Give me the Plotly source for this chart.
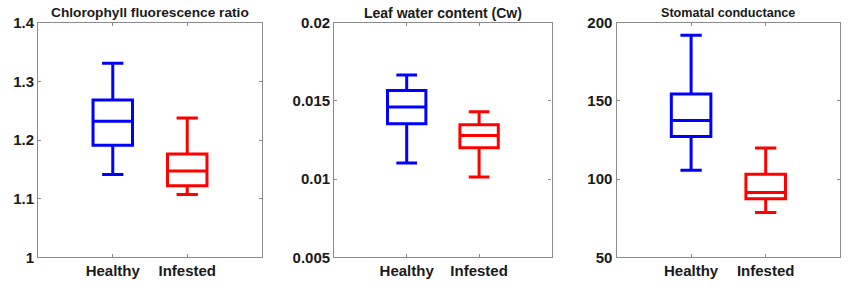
import plotly.graph_objects as go

# ---------------- data ----------------
categories = ["Healthy", "Infested"]
cat_pos = [1, 2]

titles = ["Chlorophyll fluorescence ratio", "Leaf water content (Cw)", "Stomatal conductance"]

chl_lower = [1.141, 1.107]
chl_q1 = [1.191, 1.122]
chl_median = [1.232, 1.147]
chl_q3 = [1.268, 1.176]
chl_upper = [1.331, 1.2375]

cw_lower = [0.01103, 0.01014]
cw_q1 = [0.01354, 0.01201]
cw_median = [0.01461, 0.01278]
cw_q3 = [0.01567, 0.01348]
cw_upper = [0.01666, 0.01431]

gs_lower = [105.6, 78.6]
gs_q1 = [127.3, 87.5]
gs_median = [137.4, 91.5]
gs_q3 = [154.4, 103.1]
gs_upper = [191.9, 119.9]

chl_ticks = [1.0, 1.1, 1.2, 1.3, 1.4]
chl_ticklabels = ["1", "1.1", "1.2", "1.3", "1.4"]
cw_ticks = [0.005, 0.01, 0.015, 0.02]
cw_ticklabels = ["0.005", "0.01", "0.015", "0.02"]
gs_ticks = [50, 100, 150, 200]
gs_ticklabels = ["50", "100", "150", "200"]

# ---------------- figure ----------------
W, H = 850, 290
colors = ["#0000ff", "#ff0000"]

panels = [
    (chl_lower, chl_q1, chl_median, chl_q3, chl_upper, chl_ticks, chl_ticklabels, (38.3, 261.7), 13.7),
    (cw_lower, cw_q1, cw_median, cw_q3, cw_upper, cw_ticks, cw_ticklabels, (334.3, 551.5), 14.0),
    (gs_lower, gs_q1, gs_median, gs_q3, gs_upper, gs_ticks, gs_ticklabels, (616.5, 840.3), 12.6),
]

top_px, bot_px = 22.7, 257.3
ydom = [1 - bot_px / H, 1 - top_px / H]

fig = go.Figure()
font_family = "Liberation Sans, Arial, sans-serif"
axis_color = "#8a8a8a"
text_color = "#1a1a1a"

layout = dict(
    width=W, height=H,
    margin=dict(l=0, r=0, t=0, b=0, pad=0, autoexpand=False),
    paper_bgcolor="white", plot_bgcolor="white",
    showlegend=False,
    font=dict(family=font_family, color=text_color),
    annotations=[],
)

for i, (lo, q1, med, q3, up, tv, tt, (x0, x1), tsize) in enumerate(panels):
    idx = "" if i == 0 else str(i + 1)
    xa = "x" + idx
    ya = "y" + idx
    for j in range(2):
        fig.add_trace(go.Box(
            x=[cat_pos[j]],
            q1=[q1[j]], median=[med[j]], q3=[q3[j]],
            lowerfence=[lo[j]], upperfence=[up[j]],
            xaxis=xa, yaxis=ya,
            width=0.53, whiskerwidth=0.54,
            line=dict(color=colors[j], width=3),
            fillcolor="rgba(255,255,255,0)",
            boxpoints=False,
            hoverinfo="skip",
        ))
    layout["xaxis" + idx] = dict(
        domain=[x0 / W, x1 / W], anchor=ya, automargin=False,
        range=[0, 3], tickvals=cat_pos, ticktext=categories,
        ticks="inside", ticklen=3, tickcolor=axis_color, tickwidth=1,
        showline=True, linecolor=axis_color, linewidth=1.3, mirror="ticks",
        showgrid=False, zeroline=False, fixedrange=True,
        tickfont=dict(size=15, family=font_family, color=text_color, weight="bold"),
    )
    layout["yaxis" + idx] = dict(
        domain=ydom, anchor=xa, automargin=False,
        range=[tv[0], tv[-1]], tickvals=tv, ticktext=tt,
        ticks="inside", ticklen=3, tickcolor=axis_color, tickwidth=1,
        showline=True, linecolor=axis_color, linewidth=1.3, mirror="ticks",
        showgrid=False, zeroline=False, fixedrange=True,
        tickfont=dict(size=15, family=font_family, color=text_color, weight="bold"),
    )
    layout["annotations"].append(dict(
        text="<b>" + titles[i] + "</b>",
        x=(x0 + x1) / 2 / W, y=1 - 12.5 / H,
        xref="paper", yref="paper", xanchor="center", yanchor="middle",
        showarrow=False, font=dict(size=tsize, family=font_family, color=text_color),
    ))

fig.update_layout(**layout)
fig.write_html("out.html")
